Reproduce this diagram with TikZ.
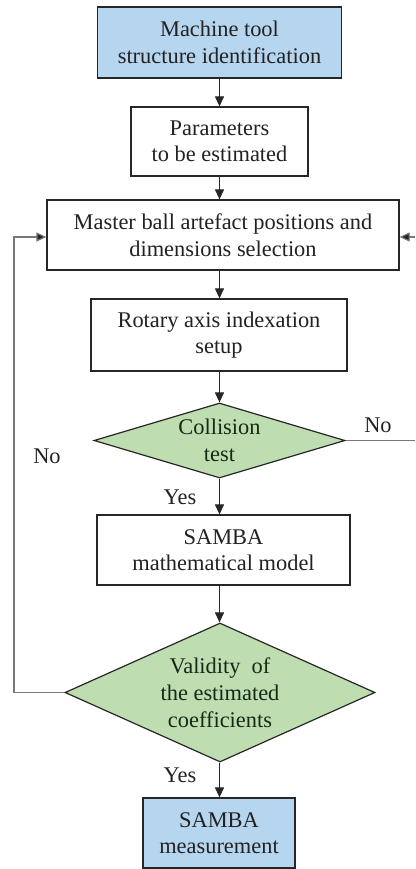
\documentclass[tikz,border=0pt]{standalone}
\usepackage{fontspec}
\setmainfont{LiberationSerif}[Extension=.ttf, UprightFont=*-Regular,
  BoldFont=*-Bold, ItalicFont=*-Italic, BoldItalicFont=*-BoldItalic]
\usetikzlibrary{arrows.meta,shapes.geometric}
\definecolor{boxblue}{RGB}{182,213,238}
\definecolor{decgreen}{RGB}{190,222,178}
\definecolor{txtdark}{RGB}{34,34,34}
\definecolor{txtgreen}{RGB}{22,40,22}
\definecolor{loopgray}{RGB}{120,120,120}
\tikzset{
  stepbox/.style={draw=black!85, line width=1.2pt, rectangle, inner sep=0pt,
    align=center, text=txtdark, font=\rmfamily\fontsize{22.4}{26.5}\selectfont},
  startbox/.style={stepbox, fill=boxblue},
  decision/.style={draw=black!85, line width=1.2pt, diamond, inner sep=0pt,
    fill=decgreen},
  dectext/.style={align=center, text=txtgreen, inner sep=0pt,
    font=\rmfamily\fontsize{22.4}{27}\selectfont},
  lbl/.style={text=txtdark, inner sep=0pt, font=\rmfamily\fontsize{22.4}{26.5}\selectfont},
  flow/.style={draw=black!85, line width=1.1pt, -{Triangle[length=10pt,width=9pt]}},
  loopline/.style={draw=loopgray, line width=1.1pt},
  looparrow/.style={loopline, -{Triangle[length=10pt,width=9pt,fill=black!85]}},
}
\begin{document}
\begin{tikzpicture}[x=1pt,y=-1pt]
  \useasboundingbox (0,0) rectangle (415,869);
  \fill[white] (0,0) rectangle (415,869);

  % process steps
  \node[startbox, minimum width=244pt, minimum height=71pt] (b1) at (219.5,42.5)
    {Machine tool\\structure identification};
  \node[stepbox, minimum width=177pt, minimum height=69pt] (b2) at (219.5,141.5)
    {Parameters\\to be estimated};
  \node[stepbox, minimum width=352pt, minimum height=70pt] (b3) at (223,235)
    {Master ball artefact positions and\\dimensions selection};
  \node[stepbox, minimum width=256pt, minimum height=72pt] (b4) at (219,335)
    {Rotary axis indexation\\setup};

  % collision decision
  \node[decision, minimum width=251pt, minimum height=75pt] (d1) at (219.5,440.5) {};
  \node[dectext] (d1t) at (219.5,440.5) {Collision\\test};

  \node[stepbox, minimum width=253pt, minimum height=70pt] (b5) at (223.5,550)
    {SAMBA\\mathematical model};

  % validity decision
  \node[decision, minimum width=310pt, minimum height=139pt] (d2) at (220,692.5) {};
  \node[dectext] (d2t) at (220,692.5) {Validity\ \ of\\the estimated\\coefficients};

  \node[startbox, minimum width=152pt, minimum height=70pt] (b6) at (219,833)
    {SAMBA\\measurement};

  % main flow
  \draw[flow] (b1.south -| b2) -- (b2.north);
  \draw[flow] (b2.south) -- (b2.south |- b3.north);
  \draw[flow] (b3.south -| b2) -- (b4.north -| b2);
  \draw[flow] (b4.south -| b2) -- (d1.north -| b2);
  \draw[flow] (d1.south -| b2) -- (b5.north -| b2);
  \draw[flow] (b5.south -| b2) -- (d2.north -| b2);
  \draw[flow] (d2.south -| b2) -- (b6.north -| b2);

  % return branches
  \coordinate (rexit) at (415,440.5);
  \coordinate (rentry) at (415,237);
  \coordinate (lcorner) at (14,692.5);
  \draw[loopline] (d1.east) -- (rexit);
  \draw[looparrow] (rentry) -- (rentry -| b3.east);
  \draw[looparrow] (d2.west) -- (lcorner) |- (b3.west |- rentry);

  % branch labels
  \node[lbl] (nor) at (378,425) {No};
  \node[lbl] (nol) at (47,456) {No};
  \node[lbl] (yes1) at (180,497) {Yes};
  \node[lbl] (yes2) at (180,775) {Yes};
\end{tikzpicture}
\end{document}
